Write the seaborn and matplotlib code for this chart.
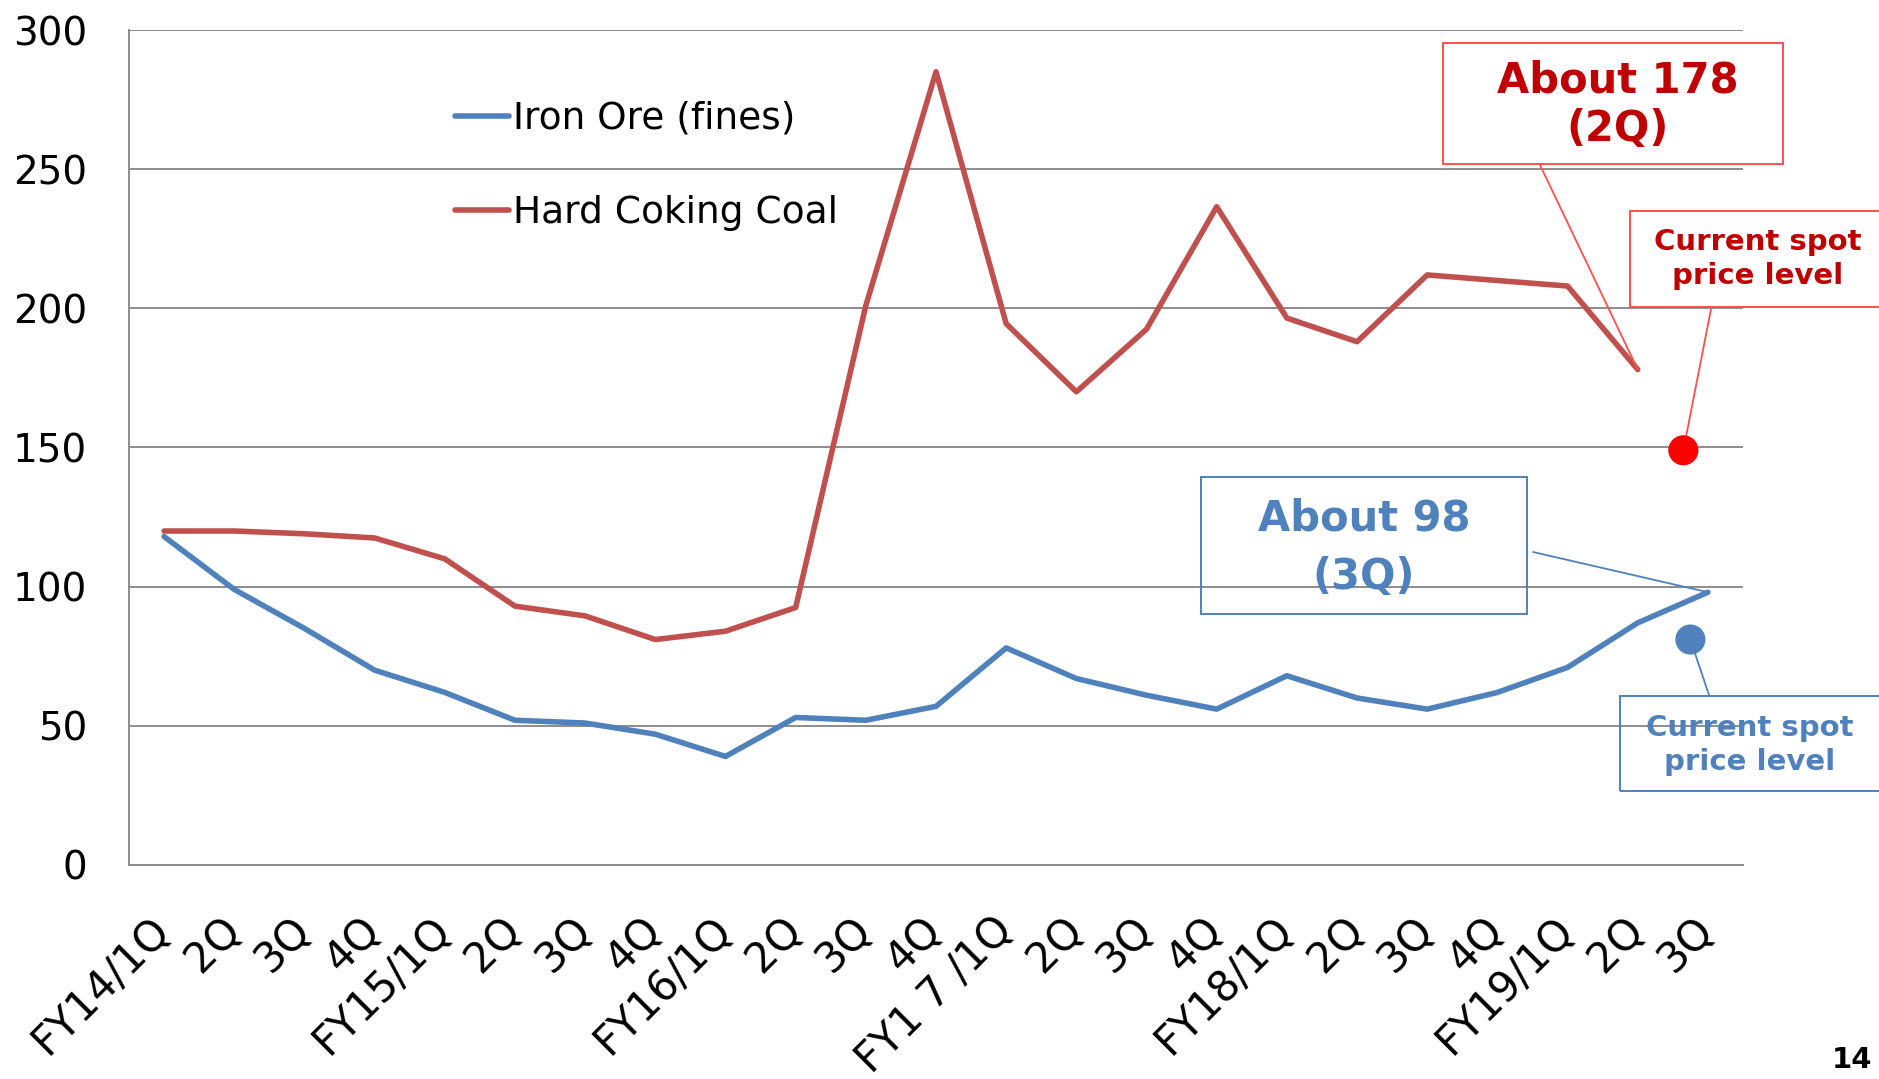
import numpy as np
import pandas as pd
import seaborn as sns
import matplotlib.pyplot as plt
from matplotlib.patches import Rectangle

####Data
quarters = ["FY14/1Q", "2Q", "3Q", "4Q",
            "FY15/1Q", "2Q", "3Q", "4Q",
            "FY16/1Q", "2Q", "3Q", "4Q",
            "FY1 7 /1Q", "2Q", "3Q", "4Q",
            "FY18/1Q", "2Q", "3Q", "4Q",
            "FY19/1Q", "2Q", "3Q"]
iron_ore = [118, 99, 85, 70, 62, 52, 51, 47, 39, 53, 52, 57,
            78, 67, 61, 56, 68, 60, 56, 62, 71, 87, 98]
coking_coal = [120, 120, 119, 117.5, 110, 93, 89.5, 81, 84, 92.5, 201, 285,
               194.5, 170, 192.5, 236.5, 196.5, 188, 212, 210, 208, 178]
spot_pos = [21.65, 21.75]          # between FY19 2Q and 3Q
spot_price = [149, 81]             # coal, iron ore
yticks = [0, 50, 100, 150, 200, 250, 300]

BLUE = "#4F81BD"
RED = "#C0504D"
W, H = 1879, 1079

sns.set_style("white")
plt.rcParams["font.family"] = ["DejaVu Sans"]

####Build long table for seaborn
pos = np.arange(len(quarters))
df = pd.concat([
    pd.DataFrame({"pos": pos, "price": iron_ore, "series": "Iron Ore (fines)"}),
    pd.DataFrame({"pos": pos[:len(coking_coal)], "price": coking_coal, "series": "Hard Coking Coal"}),
])

fig = plt.figure(figsize=(W / 100, H / 100), dpi=100)
ax = fig.add_axes([129 / W, 1 - 865 / H, (1743 - 129) / W, (865 - 30) / H])

sns.lineplot(data=df, x="pos", y="price", hue="series", sort=False,
             palette={"Iron Ore (fines)": BLUE, "Hard Coking Coal": RED},
             linewidth=4, ax=ax, zorder=3)

sns.scatterplot(x=spot_pos[:1], y=spot_price[:1], color="#FF0000", s=470,
                edgecolor="none", ax=ax, zorder=6, legend=False)
sns.scatterplot(x=spot_pos[1:], y=spot_price[1:], color=BLUE, s=470,
                edgecolor="none", ax=ax, zorder=6, legend=False)

####Axes styling
ax.set_xlim(-0.5, len(quarters) - 0.5)
ax.set_ylim(0, 300)
ax.set_yticks(yticks)
ax.set_yticklabels([str(v) for v in yticks], fontsize=28, color="black")
ax.set_xticks(pos)
ax.set_xticklabels(quarters, fontsize=30, rotation=45, ha="right", va="center",
                   rotation_mode="anchor", color="black")
ax.set_xticks(np.arange(-0.5, len(quarters)), minor=True)
ax.tick_params(axis="x", which="major", length=0, pad=42)
ax.tick_params(axis="x", which="minor", length=10, width=1.4, color="#8c8c8c")
ax.tick_params(axis="y", length=10, width=1.4, color="#8c8c8c", pad=20)
ax.set_xlabel("")
ax.set_ylabel("")
ax.grid(axis="y", color="#8c8c8c", linewidth=1.4, zorder=0)
ax.set_axisbelow(True)
for s in ["top", "right"]:
    ax.spines[s].set_visible(False)
for s in ["left", "bottom"]:
    ax.spines[s].set_color("#8c8c8c")
    ax.spines[s].set_linewidth(1.4)

handles, labels = ax.get_legend_handles_labels()
leg = ax.legend(handles, labels, loc="upper left", bbox_to_anchor=(0.202, 0.915),
                frameon=False, fontsize=27, handlelength=1.45, handletextpad=0.1,
                labelspacing=1.55, borderpad=0, borderaxespad=0)
for t in leg.get_texts():
    t.set_color("black")

####Callout boxes (pixel positions of the reference)
def box(x0, y0, x1, y1, ec):
    fig.add_artist(Rectangle((x0 / W, 1 - y1 / H), (x1 - x0) / W, (y1 - y0) / H,
                             transform=fig.transFigure, fill=False, ec=ec, lw=1.4))

def connector(xy, px, py, color):
    ax.annotate("", xy=xy, xycoords="data", xytext=(px / W, 1 - py / H),
                textcoords="figure fraction",
                arrowprops=dict(arrowstyle="-", color=color, lw=1.3,
                                shrinkA=0, shrinkB=0), zorder=4)

box(1443, 43, 1783, 164, "#FF5050")
fig.text(1618 / W, 1 - 105 / H, "About 178\n(2Q)", ha="center", va="center",
         fontsize=30, weight="bold", color="#C00000", linespacing=1.2)
connector((21, coking_coal[21]), 1540, 165, "#FF5050")

box(1630, 211, 1900, 307, "#FF5050")
fig.text(1758 / W, 1 - 259 / H, "Current spot\nprice level", ha="center", va="center",
         fontsize=21, weight="bold", color="#C00000", linespacing=1.3)
connector((spot_pos[0], spot_price[0]), 1711, 309, "#FF5050")

box(1201, 477, 1527, 614, BLUE)
fig.text(1364 / W, 1 - 548 / H, "About 98\n(3Q)", ha="center", va="center",
         fontsize=30, weight="bold", color=BLUE, linespacing=1.5)
connector((22, iron_ore[22]), 1533, 552, BLUE)

box(1620, 696, 1900, 791, BLUE)
fig.text(1750 / W, 1 - 745 / H, "Current spot\nprice level", ha="center", va="center",
         fontsize=21, weight="bold", color=BLUE, linespacing=1.25)
connector((spot_pos[1], spot_price[1]), 1709, 695, BLUE)

fig.text(1832 / W, 1 - 1046 / H, "14", ha="left", va="top", fontsize=21,
         weight="bold", color="black")

fig.savefig("out.png", dpi=100)
